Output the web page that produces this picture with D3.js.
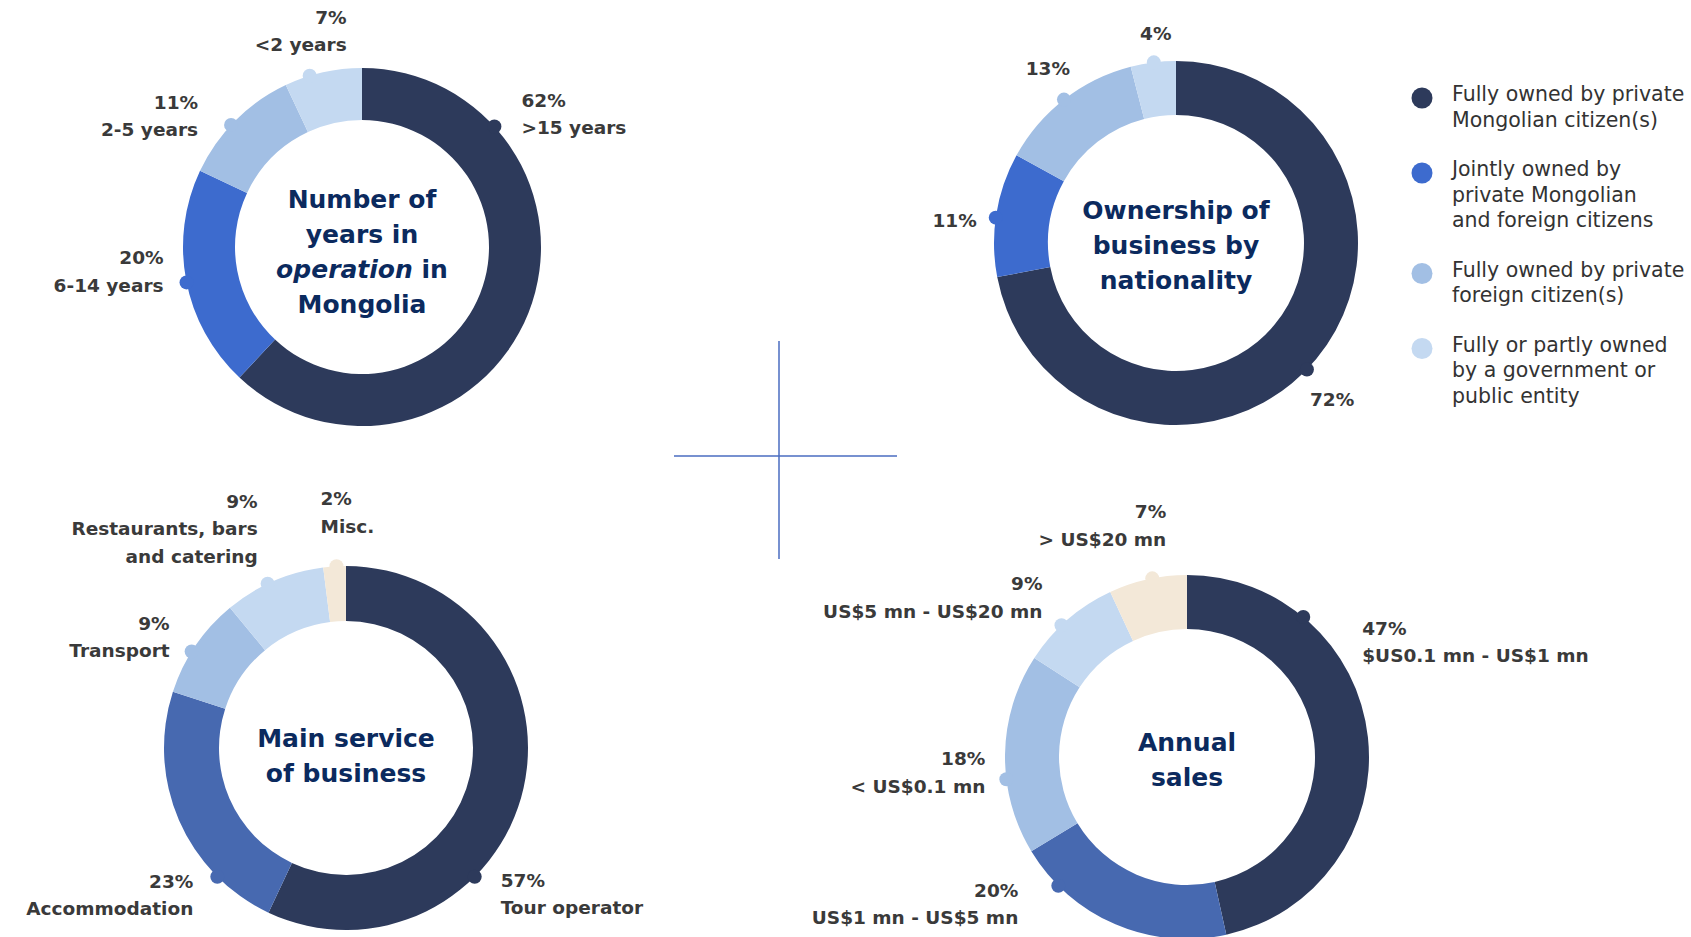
<!DOCTYPE html>
<html>
<head>
<meta charset="utf-8">
<script src="https://cdnjs.cloudflare.com/ajax/libs/d3/7.8.5/d3.min.js"></script>
<style>
  body { margin: 0; background: #fff; }
  svg { display: block; }
  .lbl { font-family: "DejaVu Sans", sans-serif; font-weight: bold; font-size: 18.5px; fill: #3a3a3a; }
  .ttl { font-family: "DejaVu Sans", sans-serif; font-weight: bold; font-size: 25px; fill: #0b2a5e; }
  .leg { font-family: "DejaVu Sans", sans-serif; font-size: 20.5px; fill: #333; }
</style>
</head>
<body>
<svg id="chart" width="1691" height="937"></svg>
<script>
// ---- data ----
var yearsCats = [">15 years", "6-14 years", "2-5 years", "<2 years"];
var yearsVals = [62, 20, 11, 7];

var ownerCats = ["Fully owned by private|Mongolian citizen(s)",
                 "Jointly owned by|private Mongolian|and foreign citizens",
                 "Fully owned by private|foreign citizen(s)",
                 "Fully or partly owned|by a government or|public entity"];
var ownerVals = [72, 11, 13, 4];

var serviceCats = ["Tour operator", "Accommodation", "Transport", "Restaurants, bars|and catering", "Misc."];
var serviceVals = [57, 23, 9, 9, 2];

var salesCats = ["$US0.1 mn - US$1 mn", "US$1 mn - US$5 mn", "< US$0.1 mn", "US$5 mn - US$20 mn", "> US$20 mn"];
var salesVals = [47, 20, 18, 9, 7];

// ---- colours ----
var dark = "#2d3a5b", blue = "#3d6bce", midBlue = "#4769b0",
    light = "#a2bfe4", lighter = "#c4d9f1", beige = "#f3e8d8";

var svg = d3.select("#chart");

// label layout: [dot angle (deg), anchor, dx, dy of first line]
var charts = [
  { cats: yearsCats, vals: yearsVals, cx: 362, cy: 247, R: 179, r: 127,
    colors: [dark, blue, light, lighter],
    title: ["Number of", "years in", "*operation* in", "Mongolia"], titleDy: 13,
    labels: [[47.7, "start", 27, -20], [258.6, "end", -23, -18], [313, "end", -33, -16], [343, "end", 37, -52]],
    showCat: true },
  { cats: ownerCats, vals: ownerVals, cx: 1176, cy: 243, R: 182, r: 128,
    colors: [dark, blue, light, lighter],
    title: ["Ownership of", "business by", "nationality"], titleDy: 11,
    labels: [[134, "start", 3, 37], [278, "end", -19, 9], [322, "end", 6, -25], [353, "middle", 2, -22]],
    showCat: false },
  { cats: serviceCats, vals: serviceVals, cx: 346, cy: 748, R: 182, r: 127,
    colors: [dark, midBlue, light, lighter, beige],
    title: ["Main service", "of business"], titleDy: 16,
    labels: [[135, "start", 26, 10], [225, "end", -24, 11], [302, "end", -22, -22], [334.5, "end", -10, -76], [357, "start", -16, -61]],
    showCat: true },
  { cats: salesCats, vals: salesVals, cx: 1187, cy: 757, R: 182, r: 128,
    colors: [dark, midBlue, light, lighter, beige],
    title: ["Annual", "sales"], titleDy: 11,
    labels: [[39.7, "start", 59, 18], [225, "end", -40, 11], [263, "end", -21, -14], [316.4, "end", -19, -35], [349, "end", 14, -60]],
    showCat: true }
];

var pie = d3.pie().sort(null).value(function(d) { return d; });
var rad = Math.PI / 180;

charts.forEach(function(c) {
  var g = svg.append("g").attr("transform", "translate(" + c.cx + "," + c.cy + ")");
  var arc = d3.arc().innerRadius(c.r).outerRadius(c.R);

  g.selectAll("path.slice")
    .data(pie(c.vals))
    .enter().append("path")
    .attr("class", "slice")
    .attr("d", arc)
    .attr("fill", function(d, i) { return c.colors[i]; });

  // dots + labels
  c.vals.forEach(function(v, i) {
    var L = c.labels[i];
    var a = L[0] * rad;
    var x = c.R * Math.sin(a), y = -c.R * Math.cos(a);
    g.append("circle").attr("cx", x).attr("cy", y).attr("r", 7)
      .attr("fill", c.colors[i]);

    var lines = [v + "%"];
    if (c.showCat) lines = lines.concat(c.cats[i].split("|"));
    var t = g.append("text").attr("class", "lbl")
      .attr("text-anchor", L[1])
      .attr("x", x + L[2]).attr("y", y + L[3]);
    lines.forEach(function(s, k) {
      t.append("tspan").attr("x", x + L[2]).attr("dy", k === 0 ? 0 : 27.5).text(s);
    });
  });

  // centre title
  var n = c.title.length, lh = 35;
  var tt = g.append("text").attr("class", "ttl").attr("text-anchor", "middle");
  c.title.forEach(function(s, k) {
    var line = tt.append("tspan").attr("x", 0).attr("y", (k - (n - 1) / 2) * lh + c.titleDy);
    var parts = s.split("*");
    parts.forEach(function(p, j) {
      if (!p) return;
      line.append("tspan").style("font-style", j % 2 ? "italic" : "normal").text(p);
    });
  });
});

// legend for ownership chart
var legY = 98;
ownerCats.forEach(function(s, i) {
  var lines = s.split("|");
  svg.append("circle").attr("cx", 1422).attr("cy", legY).attr("r", 10.5)
    .attr("fill", charts[1].colors[i]);
  var t = svg.append("text").attr("class", "leg").attr("x", 1452).attr("y", legY + 3);
  lines.forEach(function(l, k) {
    t.append("tspan").attr("x", 1452).attr("dy", k === 0 ? 0 : 25.5).text(l);
  });
  legY += lines.length * 25.5 + 24;
});

// divider cross
svg.append("line").attr("x1", 779).attr("x2", 779).attr("y1", 341).attr("y2", 559)
  .attr("stroke", "#4a6cc0").attr("stroke-width", 1.5);
svg.append("line").attr("x1", 674).attr("x2", 897).attr("y1", 456).attr("y2", 456)
  .attr("stroke", "#4a6cc0").attr("stroke-width", 1.5);
</script>
</body>
</html>
